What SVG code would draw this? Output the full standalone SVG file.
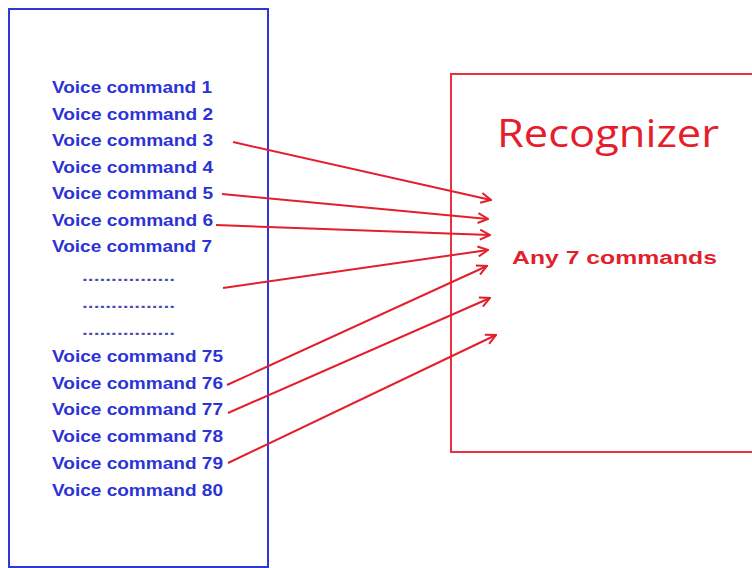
<svg xmlns="http://www.w3.org/2000/svg" width="752" height="568" viewBox="0 0 752 568">
<style>
.cmd{font-family:"Liberation Sans",Arial,sans-serif;font-weight:bold;font-size:16px;fill:#2b33d6}
.dots{font-family:"Liberation Sans",Arial,sans-serif;font-weight:bold;font-size:14px;fill:#4a4ab0}
.conn{stroke:#e41e2c;stroke-width:2;fill:none;marker-end:url(#ah)}
</style>
<defs>
<marker id="ah" viewBox="0 0 12 12" refX="11" refY="6" markerWidth="12" markerHeight="12" markerUnits="userSpaceOnUse" orient="auto">
<path d="M1,1 L11,6 L1,11" fill="none" stroke="#e41e2c" stroke-width="2"/>
</marker>
</defs>
<rect width="752" height="568" fill="#ffffff"/>
<g id="commands">
<rect x="9" y="9" width="259" height="558" fill="none" stroke="#2e38d4" stroke-width="2"/>
<text class="cmd" x="52" y="93" textLength="160" lengthAdjust="spacingAndGlyphs">Voice command 1</text>
<text class="cmd" x="52" y="120" textLength="161" lengthAdjust="spacingAndGlyphs">Voice command 2</text>
<text class="cmd" x="52" y="146" textLength="161" lengthAdjust="spacingAndGlyphs">Voice command 3</text>
<text class="cmd" x="52" y="173" textLength="161" lengthAdjust="spacingAndGlyphs">Voice command 4</text>
<text class="cmd" x="52" y="199" textLength="161" lengthAdjust="spacingAndGlyphs">Voice command 5</text>
<text class="cmd" x="52" y="226" textLength="161" lengthAdjust="spacingAndGlyphs">Voice command 6</text>
<text class="cmd" x="52" y="252" textLength="160" lengthAdjust="spacingAndGlyphs">Voice command 7</text>
<text class="dots" x="82" y="281" textLength="93" lengthAdjust="spacingAndGlyphs">................</text>
<text class="dots" x="82" y="308" textLength="93" lengthAdjust="spacingAndGlyphs">................</text>
<text class="dots" x="82" y="335" textLength="93" lengthAdjust="spacingAndGlyphs">................</text>
<text class="cmd" x="52" y="362" textLength="171" lengthAdjust="spacingAndGlyphs">Voice command 75</text>
<text class="cmd" x="52" y="389" textLength="171" lengthAdjust="spacingAndGlyphs">Voice command 76</text>
<text class="cmd" x="52" y="415" textLength="171" lengthAdjust="spacingAndGlyphs">Voice command 77</text>
<text class="cmd" x="52" y="442" textLength="171" lengthAdjust="spacingAndGlyphs">Voice command 78</text>
<text class="cmd" x="52" y="469" textLength="171" lengthAdjust="spacingAndGlyphs">Voice command 79</text>
<text class="cmd" x="52" y="496" textLength="171" lengthAdjust="spacingAndGlyphs">Voice command 80</text>
</g>
<g id="recognizer">
<rect x="451" y="74" width="310" height="378" fill="none" stroke="#e8323e" stroke-width="2"/>
<text x="497" y="147" font-family="'Open Sans','Liberation Sans',sans-serif" font-size="38" fill="#e41e2c" textLength="222" lengthAdjust="spacingAndGlyphs">Recognizer</text>
<text x="512" y="264" font-family="'Liberation Sans',Arial,sans-serif" font-weight="bold" font-size="18" fill="#e41e2c" textLength="205" lengthAdjust="spacingAndGlyphs">Any 7 commands</text>
</g>
<g id="connectors">
<line class="conn" x1="233" y1="142" x2="491" y2="200"/>
<line class="conn" x1="222" y1="194" x2="488" y2="219"/>
<line class="conn" x1="216" y1="225" x2="490" y2="235"/>
<line class="conn" x1="223" y1="288" x2="488" y2="250"/>
<line class="conn" x1="227" y1="385" x2="487" y2="266"/>
<line class="conn" x1="228" y1="413" x2="490" y2="298"/>
<line class="conn" x1="228" y1="463" x2="496" y2="335"/>
</g>
</svg>
